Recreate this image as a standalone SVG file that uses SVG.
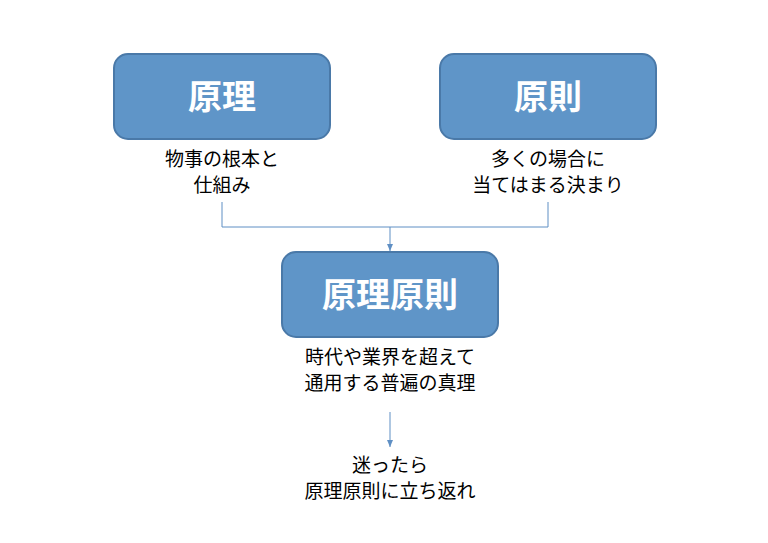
<svg xmlns="http://www.w3.org/2000/svg" width="768" height="543" viewBox="0 0 768 543">
<style>
.box{fill:#5f95c8;stroke:#4a79a8;stroke-width:2}
.t{font-family:"Noto Sans CJK JP",sans-serif;font-weight:bold;fill:#fff;font-size:34px;text-anchor:middle}
.l{font-family:"Noto Sans CJK JP",sans-serif;fill:#000;font-size:19px;text-anchor:middle}
.c{stroke:#5f8fc4;stroke-width:1;fill:none}
</style>
<defs><marker id="a" markerWidth="8" markerHeight="8" refX="7" refY="4" orient="auto" markerUnits="userSpaceOnUse"><path d="M0,1 L7,4 L0,7z" fill="#5f8fc4"/></marker></defs>
<rect width="768" height="543" fill="#fff"/>
<g id="connectors">
<path class="c" d="M222,202 V227 H548 V202"/>
<path class="c" d="M390,227 V251" marker-end="url(#a)"/>
<path class="c" d="M390,412 V447" marker-end="url(#a)"/>
</g>
<g id="n1"><rect class="box" x="114" y="54" width="216" height="85" rx="14"/><text class="t" x="222" y="109">原理</text>
<text class="l" x="222" y="166">物事の根本と</text><text class="l" x="222" y="192">仕組み</text></g>
<g id="n2"><rect class="box" x="440" y="54" width="216" height="85" rx="14"/><text class="t" x="548" y="109">原則</text>
<text class="l" x="548" y="166">多くの場合に</text><text class="l" x="548" y="192">当てはまる決まり</text></g>
<g id="n3"><rect class="box" x="282" y="252" width="216" height="85" rx="14"/><text class="t" x="390" y="307">原理原則</text>
<text class="l" x="390" y="364">時代や業界を超えて</text><text class="l" x="390" y="390">通用する普遍の真理</text></g>
<g id="n4"><text class="l" x="390" y="472">迷ったら</text><text class="l" x="390" y="498">原理原則に立ち返れ</text></g>
</svg>
